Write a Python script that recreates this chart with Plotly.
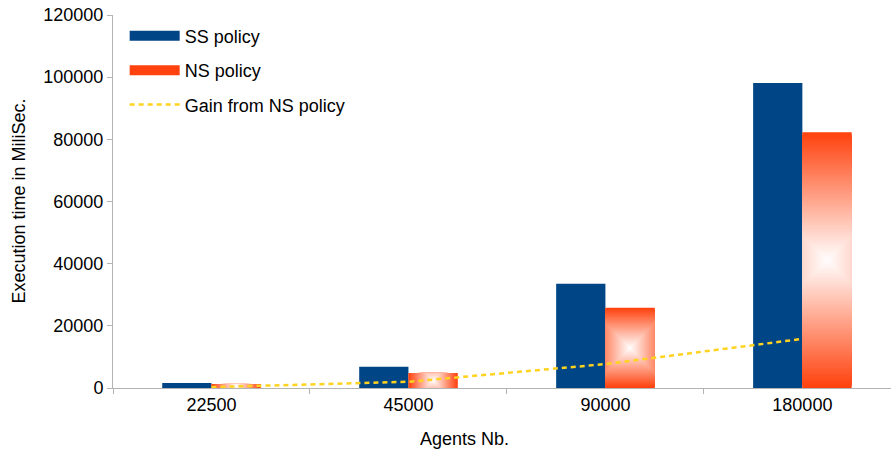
import plotly.graph_objects as go

# Data
agents = ["22500", "45000", "90000", "180000"]
ss_policy = [1600, 6850, 33500, 98100]
ns_policy = [1300, 4850, 25800, 82300]
gain = [s - n for s, n in zip(ss_policy, ns_policy)]

AZUL = "#004586"
LARANJA = (255, 66, 14)
AMARELO = "#ffd320"
FONTE = "Liberation Sans, Arial, sans-serif"

W, H = 891, 449
MARGEM = dict(l=113, r=0, t=15, b=61)
X_RANGE = [-0.5, 3.45]
Y_RANGE = [0, 120000]

BAR_W = 0.25
N_CAMADAS = 70

# escala em pixels (para o gradiente "quadrado" do LibreOffice)
PX_CAT = (W - MARGEM["l"] - MARGEM["r"]) / (X_RANGE[1] - X_RANGE[0])
PX_Y = (H - MARGEM["t"] - MARGEM["b"]) / (Y_RANGE[1] - Y_RANGE[0])


def mistura(t):
    # t=1 -> cor cheia, t=0 -> branco
    r, g, b = [round(255 + (c - 255) * t) for c in LARANJA]
    return f"rgb({r},{g},{b})"


fig = go.Figure()

# SS policy - barras solidas
fig.add_trace(go.Bar(
    x=agents, y=ss_policy, name="SS policy",
    marker=dict(color=AZUL, line=dict(width=0)),
    width=BAR_W, offset=-BAR_W, showlegend=False,
))

# NS policy - gradiente quadrado simulado com camadas sobrepostas
hw = BAR_W * PX_CAT / 2
for k in range(N_CAMADAS):
    t = 1 - k / N_CAMADAS
    larguras, offsets, bases, alturas = [], [], [], []
    for v in ns_policy:
        hh = v * PX_Y / 2
        s = t * max(hw, hh)
        w = 2 * min(s, hw) / PX_CAT
        h = 2 * min(s, hh) / PX_Y
        larguras.append(w)
        offsets.append(BAR_W / 2 - w / 2)
        bases.append(v / 2 - h / 2)
        alturas.append(h)
    fig.add_trace(go.Bar(
        x=agents, y=alturas, base=bases,
        width=larguras, offset=offsets,
        marker=dict(color=mistura(t), line=dict(width=0)),
        showlegend=False, hoverinfo="skip",
        name="NS policy",
    ))

# entradas de legenda
fig.add_trace(go.Scatter(
    x=[None], y=[None], mode="lines", name="SS policy", legendgroup="a",
    line=dict(color=AZUL, width=10),
))
fig.add_trace(go.Scatter(
    x=[None], y=[None], mode="lines", name="NS policy", legendgroup="b",
    line=dict(color=mistura(1), width=10),
))

# Ganho (SS - NS)
fig.add_trace(go.Scatter(
    x=agents, y=gain, mode="lines", name="Gain from NS policy", legendgroup="c",
    line=dict(color=AMARELO, width=2.5, dash="5px,4px"),
))

fig.update_layout(
    width=W, height=H,
    barmode="overlay",
    plot_bgcolor="white", paper_bgcolor="white",
    margin=dict(**MARGEM, autoexpand=False),
    font=dict(family=FONTE, size=18, color="#000000"),
    legend=dict(
        x=0.015, y=0.993, xanchor="left", yanchor="top",
        bgcolor="rgba(0,0,0,0)", itemwidth=50,
        font=dict(size=18), tracegroupgap=8,
    ),
    showlegend=True,
    annotations=[
        dict(text="Agents Nb.", x=(464 - 113) / (891 - 113), y=-0.105,
             xref="paper", yref="paper", showarrow=False,
             xanchor="center", yanchor="top"),
        dict(text="Execution time in MiliSec.", x=-(113 - 18) / (891 - 113), y=0.5,
             xref="paper", yref="paper", showarrow=False, textangle=-90,
             xanchor="center", yanchor="middle"),
    ],
)

fig.update_xaxes(
    type="category", range=X_RANGE, automargin=False,
    showline=True, linecolor="#b3b3b3", linewidth=1,
    ticks="outside", tickson="boundaries", ticklen=5, tickcolor="#b3b3b3",
    showgrid=False, zeroline=False,
)
fig.update_yaxes(
    range=Y_RANGE, dtick=20000, tickformat="d", automargin=False,
    showline=True, linecolor="#b3b3b3", linewidth=1,
    ticks="outside", ticklen=5, tickcolor="#b3b3b3",
    showgrid=False, zeroline=False,
)

# tirar a margem padrão do <body> para a figura ocupar a janela toda
fig.write_html(
    "out.html",
    config={"displayModeBar": False},
    post_script="document.body.style.margin='0';",
)
